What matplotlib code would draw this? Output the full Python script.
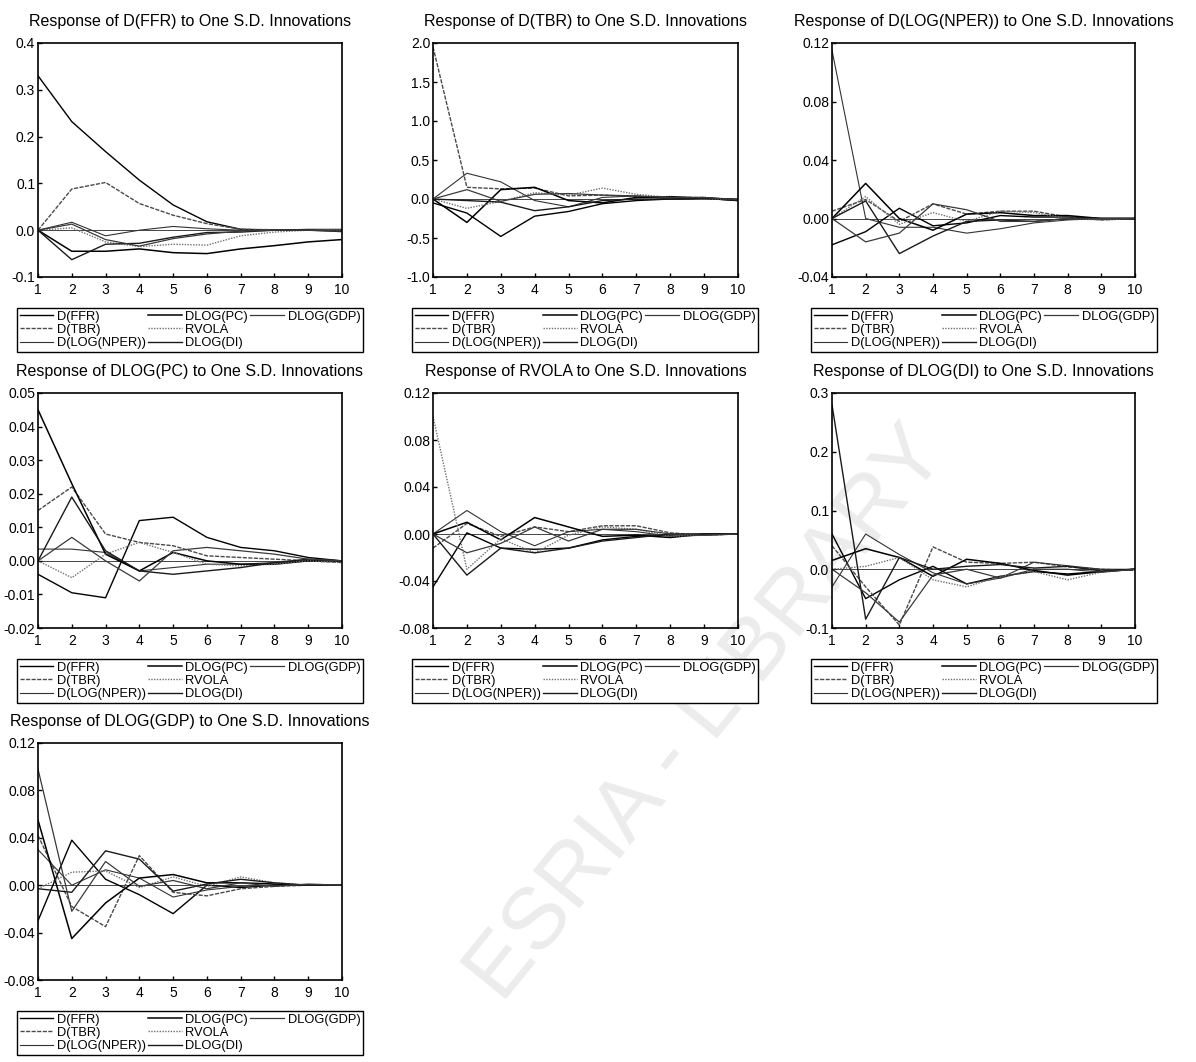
import matplotlib.pyplot as plt
from matplotlib.lines import Line2D

plt.rcParams['font.family'] = ['Liberation Sans', 'DejaVu Sans']

W, H = 1196, 1062

periods = [1, 2, 3, 4, 5, 6, 7, 8, 9, 10]
shocks = ["D(FFR)", "D(TBR)", "D(LOG(NPER))", "DLOG(PC)", "RVOLA", "DLOG(DI)", "DLOG(GDP)"]

# responses, one row per shock (same order as shocks)
resp_ffr = [
    [0.33, 0.232, 0.168, 0.107, 0.054, 0.018, 0.002, 0.0, 0.0, 0.0],
    [0.0, 0.088, 0.102, 0.057, 0.032, 0.014, 0.002, 0.001, 0.0, 0.0],
    [0.0, 0.017, -0.012, 0.0, 0.008, 0.003, 0.0, 0.0, 0.002, 0.002],
    [0.0, -0.045, -0.045, -0.040, -0.048, -0.050, -0.040, -0.033, -0.025, -0.020],
    [0.0, 0.005, -0.025, -0.035, -0.030, -0.032, -0.012, -0.004, 0.0, 0.0],
    [0.0, -0.063, -0.030, -0.028, -0.015, -0.005, -0.004, 0.0, 0.0, -0.003],
    [0.0, 0.013, -0.020, -0.034, -0.018, -0.008, -0.002, 0.0, 0.0, -0.002],
]
resp_tbr = [
    [-0.05, -0.18, -0.48, -0.22, -0.16, -0.06, -0.02, 0.0, 0.01, -0.02],
    [1.95, 0.15, 0.13, 0.14, 0.04, 0.05, 0.03, 0.02, 0.02, -0.02],
    [0.0, 0.33, 0.22, -0.02, -0.10, 0.02, 0.04, 0.0, 0.02, -0.01],
    [0.0, -0.30, 0.12, 0.15, -0.02, -0.05, 0.02, 0.03, 0.01, -0.02],
    [0.0, -0.12, -0.03, 0.08, 0.05, 0.14, 0.06, 0.02, 0.0, -0.01],
    [0.0, -0.02, -0.04, -0.15, -0.10, -0.02, 0.0, 0.0, 0.01, 0.0],
    [0.0, 0.12, -0.03, 0.06, 0.07, 0.05, 0.04, 0.02, 0.02, -0.01],
]
resp_nper = [
    [-0.018, -0.009, 0.007, -0.005, -0.003, 0.002, 0.001, 0.001, 0.0, 0.0],
    [0.005, 0.013, -0.002, 0.010, 0.003, 0.005, 0.005, 0.001, -0.001, 0.0],
    [0.115, 0.0, -0.006, -0.006, -0.010, -0.007, -0.003, -0.001, 0.0, 0.0],
    [0.0, 0.024, 0.0, -0.008, 0.003, 0.004, 0.002, 0.002, 0.0, 0.0],
    [0.0, 0.015, -0.004, 0.004, -0.002, 0.005, 0.004, 0.0, -0.001, 0.0],
    [0.0, 0.012, -0.024, -0.012, -0.002, -0.001, -0.002, 0.0, 0.0, 0.0],
    [0.0, -0.016, -0.010, 0.010, 0.006, -0.002, -0.002, 0.0, 0.0, 0.0],
]
resp_pc = [
    [-0.004, -0.0095, -0.011, 0.012, 0.013, 0.007, 0.004, 0.003, 0.001, 0.0],
    [0.015, 0.022, 0.008, 0.0055, 0.0045, 0.0015, 0.001, 0.0005, 0.0, -0.0005],
    [0.0035, 0.0035, 0.0025, -0.003, -0.002, -0.001, -0.001, -0.0005, 0.0, 0.0],
    [0.045, 0.023, 0.002, -0.003, 0.0025, 0.0, -0.001, -0.001, 0.0, 0.0],
    [0.0, -0.005, 0.002, 0.0055, 0.0025, -0.001, -0.0015, -0.001, 0.0, -0.0005],
    [0.0, 0.019, 0.003, -0.003, -0.004, -0.003, -0.002, -0.0005, 0.0005, 0.0],
    [0.0, 0.007, 0.0, -0.006, 0.003, 0.004, 0.003, 0.002, 0.0005, 0.0],
]
resp_rvola = [
    [-0.045, 0.001, -0.012, -0.013, -0.012, -0.005, -0.002, -0.001, 0.0, 0.0],
    [-0.012, 0.009, -0.002, 0.006, 0.002, 0.007, 0.007, 0.001, -0.001, 0.0],
    [0.0, 0.020, 0.002, -0.010, 0.002, 0.004, 0.002, -0.002, -0.001, 0.0],
    [0.0, 0.010, -0.005, 0.014, 0.006, -0.002, -0.001, -0.003, 0.0, 0.0],
    [0.100, -0.030, -0.004, -0.016, -0.001, 0.006, 0.004, -0.002, -0.001, 0.0],
    [0.0, -0.035, -0.012, -0.016, -0.012, -0.006, -0.003, 0.0, 0.0, 0.0],
    [0.0, -0.016, -0.008, 0.006, -0.006, 0.004, 0.004, 0.0, -0.001, 0.0],
]
resp_di = [
    [0.06, -0.05, -0.018, 0.005, -0.025, -0.012, -0.004, -0.008, -0.004, 0.0],
    [0.04, -0.03, -0.095, 0.038, 0.012, 0.010, 0.012, 0.004, 0.0, -0.002],
    [-0.03, 0.06, 0.025, -0.006, -0.025, -0.015, 0.012, 0.006, 0.0, 0.0],
    [0.015, 0.035, 0.020, -0.012, 0.017, 0.010, -0.002, -0.010, -0.004, 0.0],
    [0.0, 0.005, 0.020, -0.018, -0.030, -0.012, -0.004, -0.018, -0.005, 0.0],
    [0.28, -0.085, 0.020, 0.0, 0.005, 0.008, 0.002, 0.005, -0.003, 0.0],
    [0.0, -0.040, -0.090, -0.010, 0.0, -0.015, 0.0, 0.0, -0.005, 0.0],
]
resp_gdp = [
    [-0.030, 0.038, 0.005, -0.008, -0.024, 0.0, -0.002, 0.0, 0.0, 0.0],
    [0.042, -0.018, -0.035, 0.025, -0.006, -0.009, -0.003, -0.001, 0.0, 0.0],
    [0.030, 0.0, 0.013, 0.006, -0.010, -0.004, -0.001, 0.0, 0.0, 0.0],
    [0.055, -0.045, -0.015, 0.006, 0.009, 0.002, 0.002, 0.001, 0.0, 0.0],
    [-0.003, 0.011, 0.012, -0.002, 0.007, -0.001, 0.007, 0.002, 0.0, 0.0],
    [-0.003, -0.006, 0.029, 0.022, -0.005, 0.001, 0.005, 0.002, 0.0, 0.0],
    [0.098, -0.022, 0.020, -0.001, 0.004, -0.003, 0.002, -0.001, 0.001, 0.0],
]

panel_names = ["D(FFR)", "D(TBR)", "D(LOG(NPER))", "DLOG(PC)", "RVOLA", "DLOG(DI)", "DLOG(GDP)"]
panel_data = [resp_ffr, resp_tbr, resp_nper, resp_pc, resp_rvola, resp_di, resp_gdp]
panel_ticks = [
    [-0.1, 0.0, 0.1, 0.2, 0.3, 0.4],
    [-1.0, -0.5, 0.0, 0.5, 1.0, 1.5, 2.0],
    [-0.04, 0.0, 0.04, 0.08, 0.12],
    [-0.02, -0.01, 0.0, 0.01, 0.02, 0.03, 0.04, 0.05],
    [-0.08, -0.04, 0.0, 0.04, 0.08, 0.12],
    [-0.1, 0.0, 0.1, 0.2, 0.3],
    [-0.08, -0.04, 0.0, 0.04, 0.08, 0.12],
]
tick_fmt = ["%.1f", "%.1f", "%.2f", "%.2f", "%.2f", "%.1f", "%.2f"]

# pixel boxes of the plot areas: left, top, right, bottom
boxes = [
    (38, 43, 342, 277), (433, 43, 738, 277), (832, 43, 1135, 277),
    (38, 393, 342, 628), (433, 393, 738, 628), (832, 393, 1135, 628),
    (38, 743, 342, 980),
]

line_styles = [
    ("#000000", "-", 1.0),
    ("#4a4a4a", (0, (3, 1)), 1.0),
    ("#333333", "-", 0.8),
    ("#000000", "-", 1.1),
    ("#707070", (0, (1, 1)), 1.0),
    ("#1a1a1a", "-", 1.0),
    ("#3a3a3a", "-", 0.9),
]

fig = plt.figure(figsize=(W / 100, H / 100), dpi=100)

fig.text(708 / W, 1 - 715 / H, "ESRIA - LIBRARY", rotation=51, fontsize=63,
         color="#ececec", ha="center", va="center", rotation_mode="anchor", zorder=-5)

for name, data, ticks, fmt, box in zip(panel_names, panel_data, panel_ticks, tick_fmt, boxes):
    l, t, r, b = box
    ax = fig.add_axes([l / W, 1 - b / H, (r - l) / W, (b - t) / H])
    ax.set_facecolor("none")
    ax.axhline(0, color="#444444", lw=0.7, zorder=1)
    handles = []
    for vals, (col, ls, lw) in zip(data, line_styles):
        h, = ax.plot(periods, vals, color=col, linestyle=ls, linewidth=lw, zorder=2)
        handles.append(h)
    ax.set_xlim(1, 10)
    ax.set_xticks(periods)
    ax.set_ylim(ticks[0], ticks[-1])
    ax.set_yticks(ticks)
    ax.set_yticklabels([fmt % v for v in ticks])
    ax.tick_params(direction="in", length=3, labelsize=10, pad=2, width=1)
    ax.tick_params(axis="x", pad=4)
    for s in ax.spines.values():
        s.set_linewidth(1.2)
    ax.set_title("Response of %s to One S.D. Innovations" % name, fontsize=11.5, pad=12)

    blank = Line2D([], [], color="none")
    leg = ax.legend(handles + [blank, blank], shocks + ["", ""], ncol=3,
                    loc="upper left", bbox_to_anchor=(-21 / (r - l), -31 / (b - t), 346 / (r - l), 0),
                    mode="expand", fontsize=9.3, frameon=True, fancybox=False,
                    edgecolor="black", framealpha=1, borderpad=0.2, labelspacing=0.1,
                    handlelength=2.6, handletextpad=0.3, columnspacing=0.4, borderaxespad=0)
    leg.get_frame().set_linewidth(1.0)

fig.savefig("out.png", dpi=100)
